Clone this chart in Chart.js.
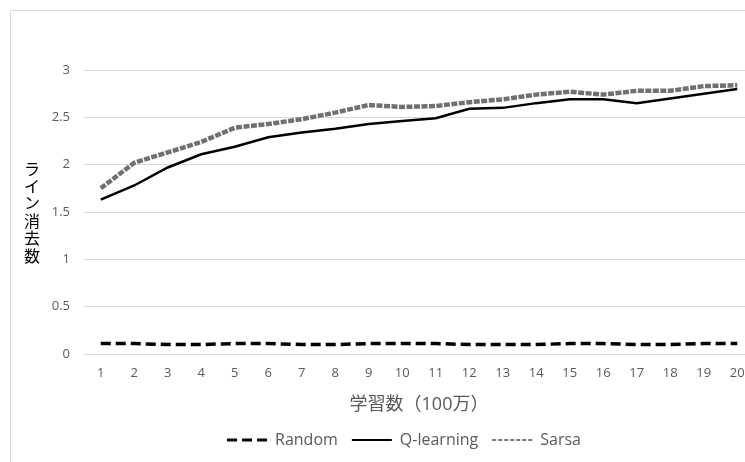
<!DOCTYPE html>
<html>
<head>
<meta charset="utf-8">
<script src="https://cdn.jsdelivr.net/npm/chart.js@4"></script>
<style>
  html, body { margin: 0; padding: 0; background: #fff; overflow: hidden; }
  #wrap { position: absolute; left: 0; top: 0; width: 775px; height: 462px; }
</style>
</head>
<body>
<div id="wrap"><canvas id="myChart" width="775" height="462"></canvas></div>
<script>
// data
const steps = ['1','2','3','4','5','6','7','8','9','10','11','12','13','14','15','16','17','18','19','20'];
const randomVals = [0.11, 0.11, 0.10, 0.10, 0.11, 0.11, 0.10, 0.10, 0.11, 0.11, 0.11, 0.10, 0.10, 0.10, 0.11, 0.11, 0.10, 0.10, 0.11, 0.11];
const qVals = [1.63, 1.78, 1.97, 2.11, 2.19, 2.29, 2.34, 2.38, 2.43, 2.46, 2.49, 2.59, 2.60, 2.65, 2.69, 2.69, 2.65, 2.70, 2.75, 2.80];
const sarsaVals = [1.75, 2.02, 2.13, 2.24, 2.39, 2.43, 2.48, 2.55, 2.63, 2.61, 2.62, 2.66, 2.69, 2.74, 2.77, 2.74, 2.78, 2.78, 2.83, 2.84];
const seriesNames = ['Random', 'Q-learning', 'Sarsa'];
const yTitle = 'ライン消去数';
const xTitle = '学習数（100万）';

const textColor = '#595959';
const gridColor = '#d9d9d9';
const fontFamily = "'Open Sans', 'Noto Sans CJK JP', sans-serif";

// legend look per series (the defaults come from point style, not the line)
const legendLook = {
    'Random': { lineWidth: 3, lineDash: [10, 5], strokeStyle: '#000' },
    'Q-learning': { lineWidth: 2, lineDash: [], strokeStyle: '#000' },
    'Sarsa': { lineWidth: 2, lineDash: [4, 2], strokeStyle: '#7a7a7a' }
};

// chart frame, legend nudge, upright vertical y title
const framePlugin = {
    id: 'frame',
    afterLayout(chart) {
        // the original legend sits a bit right of the page centre
        const lg = chart.legend;
        if (lg) { lg.left += 27; lg.right += 27; }
    },
    beforeDraw(chart) {
        const c = chart.ctx;
        c.save();
        c.strokeStyle = gridColor;
        c.lineWidth = 1;
        c.strokeRect(10.5, 10.5, chart.width + 20, chart.height + 20);
        c.restore();
    },
    afterDraw(chart) {
        const c = chart.ctx;
        const area = chart.chartArea;
        const chars = Array.from(yTitle);
        const step = 17.4;
        const mid = (area.top + area.bottom) / 2;
        c.save();
        c.fillStyle = '#000';
        c.font = "16px 'Noto Sans CJK JP', sans-serif";
        c.textAlign = 'center';
        c.textBaseline = 'middle';
        chars.forEach((ch, i) => {
            c.fillText(ch, 32, mid + (i - (chars.length - 1) / 2) * step);
        });
        c.restore();
    }
};

const ctx = document.getElementById('myChart').getContext('2d');

const chart = new Chart(ctx, {
    type: 'line',
    data: {
        labels: steps,
        datasets: [
            {
                label: seriesNames[0],
                data: randomVals,
                borderColor: '#000',
                borderWidth: 3.5,
                borderDash: [10, 5],
                pointRadius: 0
            },
            {
                label: seriesNames[1],
                data: qVals,
                borderColor: '#000',
                borderWidth: 2.5,
                pointRadius: 0
            },
            {
                label: seriesNames[2],
                data: sarsaVals,
                borderColor: '#707070',
                borderWidth: 4.5,
                borderDash: [6, 1.5],
                pointRadius: 0
            },
            {
                // white core of the double line
                label: 'sarsa-inner',
                data: sarsaVals,
                borderColor: '#fff',
                borderWidth: 2,
                borderDash: [4, 3.5],
                borderDashOffset: -1,
                pointRadius: 0
            }
        ]
    },
    options: {
        responsive: false,
        animation: false,
        devicePixelRatio: 1,
        layout: { padding: { left: 0, top: 70, right: 21, bottom: 4 } },
        plugins: {
            tooltip: { enabled: false },
            legend: {
                position: 'bottom',
                labels: {
                    usePointStyle: true,
                    pointStyle: 'line',
                    pointStyleWidth: 40,
                    boxWidth: 40,
                    boxHeight: 10,
                    padding: 14,
                    color: textColor,
                    font: { family: fontFamily, size: 16 },
                    filter: (item) => item.text !== 'sarsa-inner',
                    generateLabels(chart) {
                        const items = Chart.defaults.plugins.legend.labels.generateLabels(chart);
                        items.forEach(it => {
                            const look = legendLook[it.text];
                            if (look) Object.assign(it, look);
                        });
                        return items;
                    }
                }
            }
        },
        scales: {
            x: {
                offset: true,
                grid: { display: false, drawTicks: false },
                border: { display: true, color: gridColor, width: 1 },
                ticks: {
                    color: textColor,
                    font: { family: fontFamily, size: 13 },
                    padding: 11,
                    maxRotation: 0,
                    autoSkip: false
                },
                title: {
                    display: true,
                    text: xTitle,
                    color: textColor,
                    font: { family: fontFamily, size: 18 },
                    padding: { top: 8, bottom: 2 }
                },
                afterFit(scale) { scale.height = 64; }
            },
            y: {
                min: 0,
                max: 3,
                grid: { color: gridColor, lineWidth: 1, drawTicks: false },
                border: { display: false },
                ticks: {
                    stepSize: 0.5,
                    color: textColor,
                    font: { family: fontFamily, size: 13 },
                    padding: 14,
                    callback: (v) => String(v)
                },
                afterFit(scale) { scale.width = 84; }
            }
        }
    },
    plugins: [framePlugin]
});
</script>
</body>
</html>
